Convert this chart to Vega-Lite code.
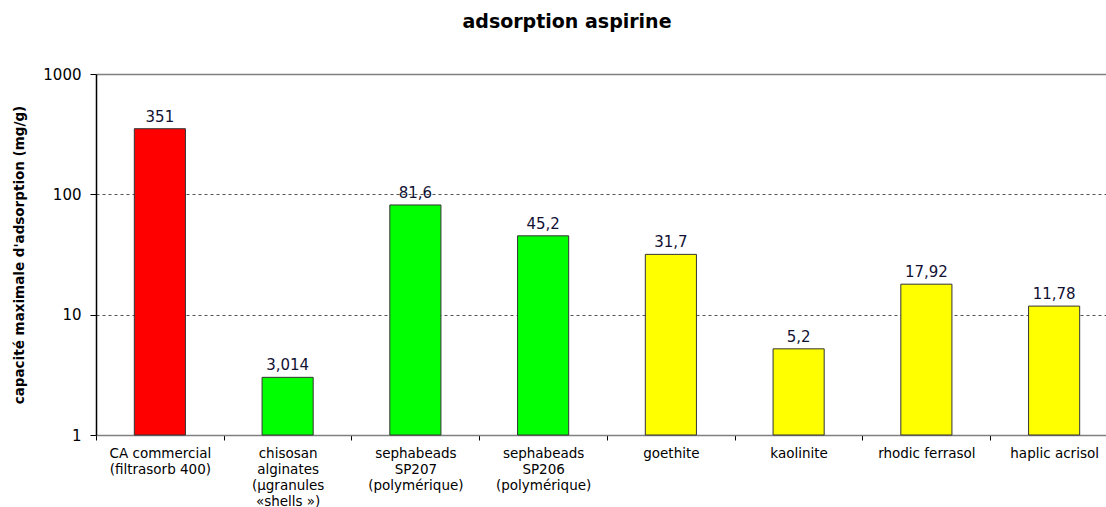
{
  "$schema": "https://vega.github.io/schema/vega-lite/v6.json",
  "autosize": "none",
  "padding": {"left": 96, "top": 74, "right": 0, "bottom": 72},
  "width": 1010,
  "height": 361,
  "background": "white",
  "title": {
    "text": "adsorption aspirine",
    "font": "DejaVu Sans",
    "fontSize": 19,
    "fontWeight": "bold",
    "color": "#000000",
    "anchor": "middle",
    "dx": -34,
    "offset": 35
  },
  "config": {
    "view": {"stroke": null},
    "font": "DejaVu Sans"
  },
  "data": {
    "values": [
      {"materiau": "CA commercial\n(filtrasorb 400)", "capacite": 351, "label": "351", "groupe": "commercial"},
      {"materiau": "chisosan\nalginates\n(µgranules\n«shells »)", "capacite": 3.014, "label": "3,014", "groupe": "polymere"},
      {"materiau": "sephabeads\nSP207\n(polymérique)", "capacite": 81.6, "label": "81,6", "groupe": "polymere"},
      {"materiau": "sephabeads\nSP206\n(polymérique)", "capacite": 45.2, "label": "45,2", "groupe": "polymere"},
      {"materiau": "goethite", "capacite": 31.7, "label": "31,7", "groupe": "mineral"},
      {"materiau": "kaolinite", "capacite": 5.2, "label": "5,2", "groupe": "mineral"},
      {"materiau": "rhodic ferrasol", "capacite": 17.92, "label": "17,92", "groupe": "mineral"},
      {"materiau": "haplic acrisol", "capacite": 11.78, "label": "11,78", "groupe": "mineral"}
    ]
  },
  "encoding": {
    "x": {
      "field": "materiau",
      "type": "nominal",
      "sort": null,
      "scale": {"range": [0, 1022], "paddingInner": 0.6, "paddingOuter": 0.3},
      "axis": {
        "title": null,
        "labelAngle": 0,
        "labelExpr": "split(datum.value, '\\n')",
        "labelFont": "DejaVu Sans",
        "labelFontSize": 13.5,
        "labelLineHeight": 16,
        "labelColor": "#000000",
        "labelPadding": 6,
        "labelBaseline": "top",
        "tickOffset": -64,
        "labelOffset": 64,
        "tickSize": 5,
        "tickColor": "#000000",
        "domainColor": "#808080",
        "domainWidth": 1.5,
        "grid": false
      }
    },
    "y": {
      "field": "capacite",
      "type": "quantitative",
      "scale": {"type": "log", "domain": [1, 1000], "nice": false},
      "axis": {
        "title": "capacité maximale d'adsorption (mg/g)",
        "titleFont": "DejaVu Sans",
        "titleFontSize": 13.5,
        "titleFontWeight": "bold",
        "titleColor": "#000000",
        "titlePadding": 16,
        "values": [1, 10, 100, 1000],
        "format": "d",
        "labelFont": "DejaVu Sans",
        "labelFontSize": 15,
        "labelColor": "#000000",
        "labelPadding": 9,
        "tickSize": 6,
        "tickColor": "#000000",
        "domainColor": "#000000",
        "domainWidth": 1.5,
        "grid": true,
        "gridColor": {"condition": {"test": "datum.value === 1000", "value": "#808080"}, "value": "#555555"},
        "gridDash": {"condition": {"test": "datum.value === 1000", "value": []}, "value": [3, 3]},
        "gridWidth": {"condition": {"test": "datum.value === 1000", "value": 1.5}, "value": 1}
      }
    }
  },
  "layer": [
    {
      "mark": {"type": "bar", "stroke": "#333333", "strokeWidth": 1},
      "encoding": {
        "y2": {"datum": 1},
        "color": {
          "field": "groupe",
          "type": "nominal",
          "scale": {"domain": ["commercial", "polymere", "mineral"], "range": ["#FF0000", "#00FF00", "#FFFF00"]},
          "legend": null
        }
      }
    },
    {
      "mark": {"type": "text", "baseline": "bottom", "dy": -4, "fontSize": 15, "font": "DejaVu Sans", "color": "#111133"},
      "encoding": {"text": {"field": "label", "type": "nominal"}}
    }
  ]
}
